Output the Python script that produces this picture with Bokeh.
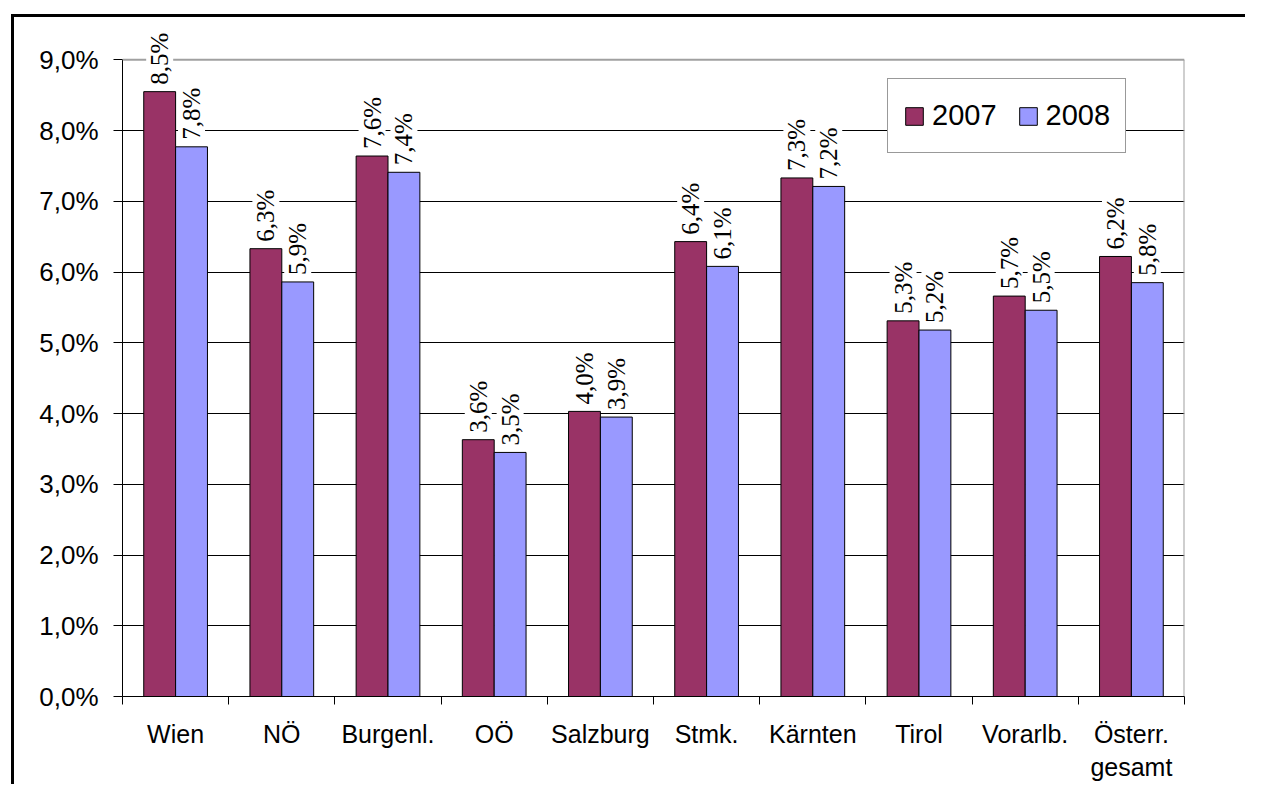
from bokeh.plotting import figure
from bokeh.models import (ColumnDataSource, Range1d, FixedTicker, LabelSet,
                          Legend, LegendItem, Span)
from bokeh.transform import dodge
from bokeh.embed import file_html
from bokeh.resources import INLINE
import math

# ---- data ----
categories = ["Wien", "NÖ", "Burgenl.", "OÖ", "Salzburg", "Stmk.", "Kärnten",
              "Tirol", "Vorarlb.", "Österr.\ngesamt"]
series_names = ["2007", "2008"]
values_2007 = [8.55, 6.33, 7.64, 3.63, 4.03, 6.43, 7.33, 5.31, 5.66, 6.22]
values_2008 = [7.77, 5.86, 7.41, 3.45, 3.95, 6.08, 7.21, 5.18, 5.46, 5.85]
labels_2007 = ["8,5%", "6,3%", "7,6%", "3,6%", "4,0%", "6,4%", "7,3%", "5,3%", "5,7%", "6,2%"]
labels_2008 = ["7,8%", "5,9%", "7,4%", "3,5%", "3,9%", "6,1%", "7,2%", "5,2%", "5,5%", "5,8%"]
y_ticks = [0, 1, 2, 3, 4, 5, 6, 7, 8, 9]
y_tick_labels = ["0,0%", "1,0%", "2,0%", "3,0%", "4,0%", "5,0%", "6,0%", "7,0%", "8,0%", "9,0%"]
y_max = 9

colors = ["#993366", "#9999FF"]
FONT = "Liberation Sans"

n = len(categories)
centers = [i + 0.5 for i in range(n)]
src = ColumnDataSource(dict(x=centers, v07=values_2007, v08=values_2008,
                            l07=labels_2007, l08=labels_2008))

p = figure(frame_width=1062, frame_height=671,
           min_border_left=122, min_border_top=25, min_border_right=61,
           min_border_bottom=87,
           x_range=Range1d(0, n), y_range=Range1d(0, 9.485),
           output_backend="svg", toolbar_location=None)
# outer chart frame (top and left edges) drawn as stacked inset shadows
p.border_fill_alpha = 0
p.styles = {"box-shadow": "inset 11px 14px 0 0 white, inset 14px 17px 0 0 black",
            "background-color": "white"}

r07 = p.vbar(x=dodge("x", -0.15, range=p.x_range), top="v07", width=0.3, bottom=0,
             source=src, fill_color=colors[0], line_color="black", line_width=1)
r08 = p.vbar(x=dodge("x", 0.15, range=p.x_range), top="v08", width=0.3, bottom=0,
             source=src, fill_color=colors[1], line_color="black", line_width=1)

# grey plot-area border (top at 9 %, right side down to the axis)
p.add_layout(Span(location=y_max, dimension="width", line_color="#a0a0a0", line_width=2))
p.segment(x0=[n], y0=[0], x1=[n], y1=[y_max], line_color="#a0a0a0", line_width=2)

for col, lab, off in (("v07", "l07", -0.15), ("v08", "l08", 0.15)):
    ls = LabelSet(x=dodge("x", off, range=p.x_range), y=col, text=lab, source=src,
                  angle=math.pi / 2, text_align="left", text_baseline="middle",
                  y_offset=7, text_font=FONT, text_font_size="25px",
                  text_color="black", background_fill_color="white")
    p.add_layout(ls)

# grid
p.xgrid.grid_line_color = None
p.ygrid.grid_line_color = "black"
p.ygrid.grid_line_width = 1
p.ygrid.ticker = FixedTicker(ticks=y_ticks[:-1])
p.outline_line_color = None

# y axis
ya = p.yaxis[0]
ya.ticker = FixedTicker(ticks=y_ticks)
ya.bounds = (0, y_max)
ya.major_label_overrides = {t: s for t, s in zip(y_ticks, y_tick_labels)}
ya.major_label_text_font = FONT
ya.major_label_text_font_size = "26px"
ya.major_label_text_color = "black"
ya.major_tick_out = 9
ya.major_tick_in = 0
ya.minor_tick_line_color = None
ya.axis_line_color = "black"
ya.major_label_standoff = 15

# x axis: labels at centers, ticks at boundaries (minor)
xa = p.xaxis[0]
xa.ticker = FixedTicker(ticks=centers, minor_ticks=list(range(n + 1)))
xa.major_label_overrides = {c: s for c, s in zip(centers, categories)}
xa.major_label_text_font = FONT
xa.major_label_text_font_size = "25px"
xa.major_label_text_color = "black"
xa.major_tick_line_color = None
xa.major_tick_out = 0
xa.major_tick_in = 0
xa.minor_tick_out = 8
xa.minor_tick_in = 0
xa.minor_tick_line_color = "black"
xa.axis_line_color = "black"
xa.major_label_standoff = 15

legend = Legend(items=[LegendItem(label=series_names[0], renderers=[r07]),
                       LegendItem(label=series_names[1], renderers=[r08])],
                orientation="horizontal", location=(765, 543),
                label_text_font=FONT, label_text_font_size="29px",
                label_text_color="black",
                glyph_width=22, glyph_height=22, spacing=20, padding=15,
                label_standoff=7, label_height=43, margin=0,
                border_line_color="#333333", border_line_width=1,
                background_fill_color="white", background_fill_alpha=1)
p.add_layout(legend)

open("out.html", "w").write(file_html(p, INLINE))
